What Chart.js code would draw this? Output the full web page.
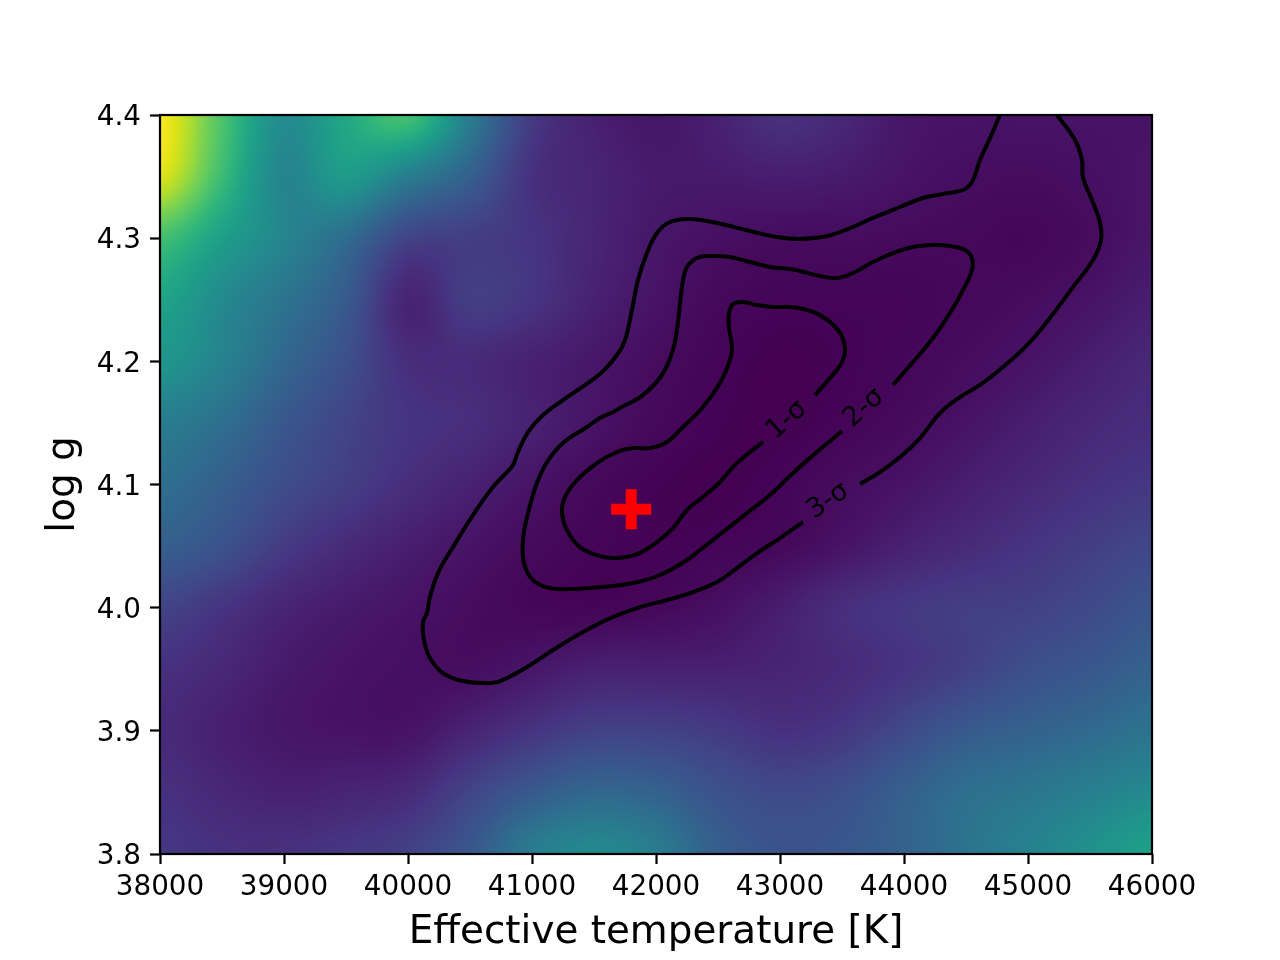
<!DOCTYPE html>
<html><head><meta charset="utf-8">
<style>html,body{margin:0;padding:0;background:#fff}canvas{display:block}</style>
<script src="https://cdn.jsdelivr.net/npm/chart.js@4"></script>
</head><body><canvas id="c" width="1280" height="960"></canvas>
<script>
const xLabel = "Effective temperature [K]";
const yLabel = "log g";
const tempGrid = [38000,38500,39000,39500,40000,40500,41000,41500,42000,42500,43000,43500,44000,44500,45000,45500,46000];
const loggGrid = [4.40,4.35,4.30,4.25,4.20,4.15,4.10,4.05,4.00,3.95,3.90,3.85,3.80];
const heat440 = [1.0,.72,.48,.6,.7,.42,.17,.09,.06,.09,.14,.11,.06,.05,.05,.05,.05];
const heat435 = [.95,.68,.45,.54,.42,.3,.14,.1,.07,.07,.08,.07,.05,.035,.03,.04,.055];
const heat430 = [.7,.56,.45,.35,.2,.18,.15,.1,.06,.04,.03,.03,.025,.02,.015,.03,.06];
const heat425 = [.58,.47,.38,.28,.1,.18,.15,.09,.05,.02,.01,.01,.01,.02,.03,.05,.08];
const heat420 = [.52,.44,.33,.24,.13,.12,.09,.06,.03,.01,0,.005,.015,.03,.05,.08,.11];
const heat415 = [.42,.36,.27,.2,.15,.13,.09,.05,.02,.005,0,.01,.025,.05,.08,.11,.13];
const heat410 = [.36,.3,.23,.18,.13,.09,.05,.02,.005,0,.01,.03,.05,.08,.11,.14,.16];
const heat405 = [.3,.25,.17,.12,.08,.05,.025,.01,.005,.01,.02,.05,.09,.12,.15,.18,.21];
const heat400 = [.2,.15,.1,.07,.05,.03,.015,.01,.02,.04,.08,.13,.16,.18,.19,.22,.26];
const heat395 = [.14,.11,.07,.05,.04,.035,.06,.09,.09,.09,.1,.12,.15,.19,.24,.27,.31];
const heat390 = [.12,.085,.06,.05,.05,.1,.15,.19,.19,.17,.14,.16,.22,.28,.31,.34,.38];
const heat385 = [.14,.11,.09,.1,.12,.2,.28,.33,.31,.25,.22,.24,.3,.36,.39,.43,.47];
const heat380 = [.16,.14,.14,.16,.19,.27,.42,.47,.42,.3,.26,.27,.31,.38,.44,.5,.57];
const heatRows = [heat440,heat435,heat430,heat425,heat420,heat415,heat410,heat405,heat400,heat395,heat390,heat385,heat380];

const sigma1T = [43282,43403,43500,43524,43468,43347,43218,43081,42944,42815,42702,42621,42589,42589,42613,42597,42516,42379,42218,42089,41952,41815,41685,41524,41363,41266,41242,41282,41387,41548,41685,41847,42008,42137,42250,42379,42516,42653,42863];
const sigma1G = [4.1726,4.1864,4.1994,4.2116,4.2254,4.2360,4.2417,4.2441,4.2441,4.2457,4.2482,4.2465,4.2392,4.2270,4.2116,4.2011,4.1824,4.1629,4.1467,4.1345,4.1296,4.1296,4.1264,4.1174,4.1036,4.0898,4.0776,4.0630,4.0492,4.0419,4.0403,4.0435,4.0533,4.0646,4.0793,4.0898,4.1020,4.1174,4.1345];
const sigma2T = [43911,44073,44234,44371,44476,44548,44548,44492,44371,44234,44073,43911,43750,43589,43460,43323,43161,43081,42919,42758,42597,42435,42331,42250,42218,42194,42169,42129,42048,41895,41710,41653,41548,41444,41250,41121,41040,40968,40927,40935,41008,41145,41306,41548,41815,42032,42250,42355,42540,42734,42919,43105,43298,43500];
const sigma2G = [4.1808,4.1994,4.2189,4.2392,4.2579,4.2741,4.2839,4.2904,4.2936,4.2944,4.2928,4.2879,4.2806,4.2717,4.2676,4.2693,4.2733,4.2750,4.2766,4.2806,4.2847,4.2855,4.2839,4.2766,4.2660,4.2473,4.2254,4.2067,4.1889,4.1726,4.1621,4.1588,4.1540,4.1467,4.1337,4.1182,4.1012,4.0768,4.0549,4.0362,4.0224,4.0159,4.0151,4.0167,4.0200,4.0265,4.0387,4.0468,4.0614,4.0768,4.0914,4.1093,4.1264,4.1434];
const sigma3aT = [43645,43806,43968,44129,44290,44452,44613,44798,44992,45177,45363,45524,45589,45581,45516,45444,45435,45379,45234];
const sigma3aG = [4.1004,4.1101,4.1223,4.1377,4.1580,4.1710,4.1808,4.1954,4.2132,4.2352,4.2603,4.2823,4.2985,4.3123,4.3310,4.3488,4.3635,4.3797,4.4000];
const sigma3bT = [44774,44694,44613,44548,44476,44315,44153,43968,43750,43565,43379,43161,42976,42758,42492,42274,42113,42008,41927,41855,41806,41750,41685,41548,41250,41089,40968,40887,40847,40798,40685,40524,40363,40242,40177,40153,40121,40129,40177,40282,40444,40637,40742,40960,41169,41411,41653,41871,42089,42298,42492,42653,42815,43000,43185];
const sigma3bG = [4.4000,4.3813,4.3635,4.3456,4.3391,4.3359,4.3326,4.3253,4.3164,4.3082,4.3017,4.2993,4.3009,4.3058,4.3123,4.3156,4.3131,4.3042,4.2879,4.2660,4.2417,4.2173,4.2051,4.1897,4.1686,4.1564,4.1426,4.1264,4.1158,4.1101,4.0979,4.0752,4.0492,4.0281,4.0086,3.9956,3.9883,3.9737,3.9591,3.9469,3.9404,3.9388,3.9404,3.9518,3.9656,3.9802,3.9924,4.0005,4.0062,4.0127,4.0208,4.0322,4.0443,4.0565,4.0695];
const bestT = [41800];
const bestG = [4.08];
const contourText = ["1-σ","2-σ","3-σ"];
const contourTextT = [43056,43677,43387];
const contourTextG = [4.1523,4.1621,4.0866];
const contourTextAngle = [-42,-42,-34];
const viridis = ["#440154","#471365","#482475","#463480","#414487","#3b528b","#355f8d","#2f6c8e","#2a788e","#25848e","#21918c","#1e9c89","#22a884","#2fb47c","#44bf70","#5ec962","#7ad151","#9bd93c","#bddf26","#dfe318","#fde725"];

const rgbStops = viridis.map(h => [1,3,5].map(i => parseInt(h.substr(i,2),16)));
function colorFor(v){
  v = Math.max(0,Math.min(1,v))*(rgbStops.length-1);
  const i = Math.min(rgbStops.length-2,Math.floor(v)), f = v-i;
  return rgbStops[i].map((c,k)=>c+(rgbStops[i+1][k]-c)*f);
}
function cr(a,b,c,d,t){return b+0.5*t*(c-a+t*(2*a-5*b+4*c-d+t*(3*(b-c)+d-a)));}
function sample(tv,gv){
  const cx=(tv-tempGrid[0])/(tempGrid[1]-tempGrid[0]);
  const cy=(loggGrid[0]-gv)/(loggGrid[0]-loggGrid[1]);
  const nx=tempGrid.length,ny=loggGrid.length;
  const ix=Math.max(0,Math.min(nx-2,Math.floor(cx))),iy=Math.max(0,Math.min(ny-2,Math.floor(cy)));
  const fx=cx-ix,fy=cy-iy;
  const col=[];
  for(let j=-1;j<=2;j++){
    const r=heatRows[Math.max(0,Math.min(ny-1,iy+j))];
    const g=k=>r[Math.max(0,Math.min(nx-1,k))];
    col.push(cr(g(ix-1),g(ix),g(ix+1),g(ix+2),fx));
  }
  return cr(col[0],col[1],col[2],col[3],fy);
}
const heatPlugin = {
  id:'heat',
  beforeDatasetsDraw(chart){
    const a=chart.chartArea,sx=chart.scales.x,sy=chart.scales.y;
    const w=Math.round(a.right-a.left),h=Math.round(a.bottom-a.top);
    const off=document.createElement('canvas');off.width=w;off.height=h;
    const octx=off.getContext('2d'),img=octx.createImageData(w,h);
    for(let y=0;y<h;y++){
      const gv=sy.getValueForPixel(a.top+y+.5);
      for(let x=0;x<w;x++){
        const c=colorFor(sample(sx.getValueForPixel(a.left+x+.5),gv));
        const p=(y*w+x)*4;
        img.data[p]=c[0];img.data[p+1]=c[1];img.data[p+2]=c[2];img.data[p+3]=255;
      }
    }
    octx.putImageData(img,0,0);
    chart.ctx.drawImage(off,a.left,a.top);
  },
  afterDatasetsDraw(chart){
    const c=chart.ctx,a=chart.chartArea,sx=chart.scales.x,sy=chart.scales.y;
    c.save();
    c.fillStyle='#000';c.font='27px "DejaVu Sans"';c.textAlign='center';c.textBaseline='middle';
    contourText.forEach((t,i)=>{
      c.save();
      c.translate(sx.getPixelForValue(contourTextT[i]),sy.getPixelForValue(contourTextG[i]));
      c.rotate(contourTextAngle[i]*Math.PI/180);
      c.fillText(t,0,0);
      c.restore();
    });
    c.strokeStyle='#000';c.lineWidth=2.2;
    c.strokeRect(a.left,a.top,a.right-a.left,a.bottom-a.top);
    c.restore();
  }
};
const pts=(t,g)=>t.map((v,i)=>({x:v,y:g[i]}));
const contour=(t,g)=>({data:pts(t,g),showLine:true,borderColor:'#000',borderWidth:4,pointRadius:0,tension:0.4,fill:false});
new Chart(document.getElementById('c'),{
  type:'scatter',
  plugins:[heatPlugin],
  data:{datasets:[
    {data:pts(bestT,bestG),pointStyle:'cross',pointRadius:20,pointBorderWidth:11,pointBorderColor:'#ff0000',pointBackgroundColor:'#ff0000',showLine:false},
    contour(sigma1T,sigma1G),contour(sigma2T,sigma2G),contour(sigma3aT,sigma3aG),contour(sigma3bT,sigma3bG)
  ]},
  options:{
    responsive:false,animation:false,
    layout:{padding:{top:115,right:128,left:0,bottom:0}},
    plugins:{legend:{display:false},tooltip:{enabled:false}},
    events:[],
    scales:{
      x:{type:'linear',min:38000,max:46000,
        afterFit(s){s.height=106;},
        border:{display:false},
        grid:{drawOnChartArea:false,drawTicks:true,tickLength:10,tickWidth:2.2,tickColor:'#000'},
        ticks:{stepSize:1000,color:'#000',padding:7,maxRotation:0,autoSkip:false,font:{family:'"DejaVu Sans"',size:27.8},callback:v=>String(v)},
        title:{display:true,text:xLabel,color:'#000',font:{family:'"DejaVu Sans"',size:38.9},padding:{top:0,bottom:4}}
      },
      y:{type:'linear',min:3.8,max:4.4,
        afterFit(s){s.width=160;},
        border:{display:false},
        grid:{drawOnChartArea:false,drawTicks:true,tickLength:10,tickWidth:2.2,tickColor:'#000'},
        ticks:{stepSize:0.1,color:'#000',padding:9,labelOffset:3,autoSkip:false,font:{family:'"DejaVu Sans"',size:27.8},callback:v=>Number(v).toFixed(1)},
        title:{display:true,text:yLabel,color:'#000',font:{family:'"DejaVu Sans"',size:38.9},padding:{top:41,bottom:0}}
      }
    }
  }
});
</script></body></html>
